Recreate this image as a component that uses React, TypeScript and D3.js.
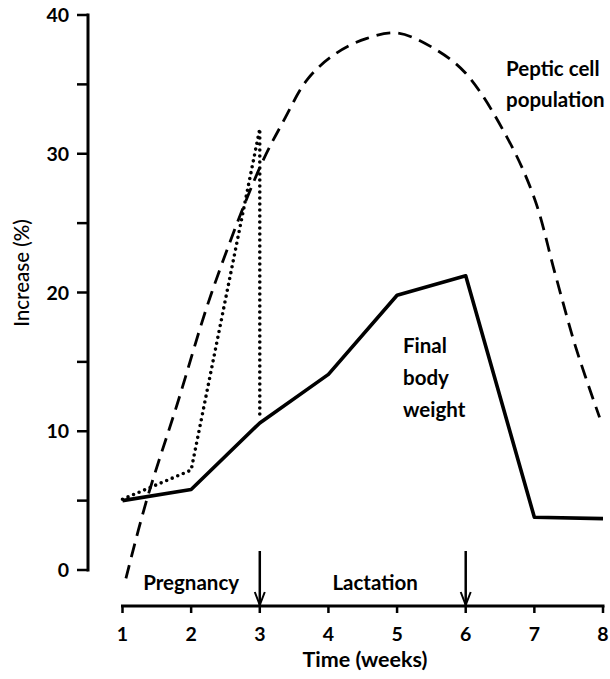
import React, { useRef, useEffect } from "react";
import * as d3 from "d3";

// weeks on the x axis
const weeks = [1, 2, 3, 4, 5, 6, 7, 8];
const yTicks = [0, 5, 10, 15, 20, 25, 30, 35, 40];
const yLabels = [0, 10, 20, 30, 40];

// final body weight (solid)
const bodyWeight = [5.0, 5.8, 10.6, 14.1, 19.8, 21.2, 3.8, 3.7];

// dotted trace
const dottedX = [1, 2, 3, 3];
const dottedY = [5.1, 7.2, 31.8, 11.1];

// peptic cell population (dashed curve)
const pepticX = [1.05, 1.35, 1.8, 2.3, 3.0, 3.35, 3.7, 4.1, 4.55, 5.0, 5.5, 6.0, 6.6, 7.0, 7.3, 7.6, 7.95];
const pepticY = [-0.6, 5.0, 12.0, 20.0, 29.0, 32.4, 35.4, 37.2, 38.3, 38.7, 37.7, 35.8, 31.2, 26.8, 21.4, 16.1, 11.0];

const arrowWeeks = [3, 6];
const phaseLabels = ["Pregnancy", "Lactation"];
const phaseCentres = [2, 4.68];

const FONT = "Lato, 'Open Sans', sans-serif";

const App = () => {
  const ref = useRef(null);

  useEffect(() => {
    const svg = d3.select(ref.current);
    svg.selectAll("*").remove();

    const x = d3.scaleLinear().domain([1, 8]).range([122.5, 603]);
    const y = d3.scaleLinear().domain([0, 40]).range([570, 15]);
    const axisY = 606;

    // y axis
    svg.append("line")
      .attr("x1", 88).attr("x2", 88)
      .attr("y1", y(40) - 1.5).attr("y2", y(0) + 1.5)
      .attr("stroke", "#000").attr("stroke-width", 3);
    svg.selectAll(".ytick").data(yTicks).enter().append("line")
      .attr("x1", 77).attr("x2", 88)
      .attr("y1", d => y(d)).attr("y2", d => y(d))
      .attr("stroke", "#000").attr("stroke-width", 2.5);
    svg.selectAll(".ylab").data(yLabels).enter().append("text")
      .attr("x", 69).attr("y", d => y(d)).attr("dy", "0.36em")
      .attr("text-anchor", "end")
      .attr("font-family", FONT).attr("font-weight", 700).attr("font-size", 19.5)
      .text(d => d);

    // x axis
    svg.append("line")
      .attr("x1", x(1) - 1.5).attr("x2", x(8) + 1.5)
      .attr("y1", axisY).attr("y2", axisY)
      .attr("stroke", "#000").attr("stroke-width", 3);
    svg.selectAll(".xtick").data(weeks).enter().append("line")
      .attr("x1", d => x(d)).attr("x2", d => x(d))
      .attr("y1", axisY).attr("y2", axisY + 7)
      .attr("stroke", "#000").attr("stroke-width", 2.5);
    svg.selectAll(".xlab").data(weeks).enter().append("text")
      .attr("x", d => x(d)).attr("y", 641)
      .attr("text-anchor", "middle")
      .attr("font-family", FONT).attr("font-weight", 700).attr("font-size", 19.5)
      .text(d => d);

    svg.append("text")
      .attr("x", 365).attr("y", 667)
      .attr("text-anchor", "middle")
      .attr("font-family", FONT).attr("font-weight", 700).attr("font-size", 21.5)
      .text("Time (weeks)");

    svg.append("text")
      .attr("transform", "translate(29, 273) rotate(-90)")
      .attr("text-anchor", "middle")
      .attr("font-family", FONT).attr("font-weight", 500).attr("font-size", 20.5)
      .text("Increase (%)");

    // arrows at birth and weaning
    arrowWeeks.forEach(w => {
      const cx = x(w);
      svg.append("line")
        .attr("x1", cx).attr("x2", cx)
        .attr("y1", 551).attr("y2", axisY)
        .attr("stroke", "#000").attr("stroke-width", 2.5);
      svg.append("path")
        .attr("d", `M${cx - 5},${axisY - 14} L${cx},${axisY - 1} L${cx + 5},${axisY - 14}`)
        .attr("fill", "none").attr("stroke", "#000").attr("stroke-width", 2);
    });

    phaseLabels.forEach((label, i) => {
      svg.append("text")
        .attr("x", x(phaseCentres[i])).attr("y", 590)
        .attr("text-anchor", "middle")
        .attr("font-family", FONT).attr("font-weight", 700).attr("font-size", 20.5)
        .text(label);
    });

    // peptic cell population
    const pepticLine = d3.line()
      .x(d => x(d[0])).y(d => y(d[1]))
      .curve(d3.curveCatmullRom.alpha(0.5));
    svg.append("path")
      .datum(pepticX.map((v, i) => [v, pepticY[i]]))
      .attr("d", pepticLine)
      .attr("fill", "none").attr("stroke", "#000")
      .attr("stroke-width", 2.8).attr("stroke-dasharray", "14,8");

    // dotted trace
    const straight = d3.line().x(d => x(d[0])).y(d => y(d[1]));
    svg.append("path")
      .datum(dottedX.map((v, i) => [v, dottedY[i]]))
      .attr("d", straight)
      .attr("fill", "none").attr("stroke", "#000")
      .attr("stroke-width", 3.6).attr("stroke-linecap", "round")
      .attr("stroke-dasharray", "0,6");

    // final body weight
    svg.append("path")
      .datum(weeks.map((w, i) => [w, bodyWeight[i]]))
      .attr("d", straight)
      .attr("fill", "none").attr("stroke", "#000")
      .attr("stroke-width", 3.6).attr("stroke-linejoin", "round");

    // annotations
    const notes = [
      { lines: ["Peptic cell", "population"], x: 506, y: 76, gap: 31 },
      { lines: ["Final", "body", "weight"], x: 403, y: 353, gap: 32 },
    ];
    notes.forEach(n => {
      const t = svg.append("text")
        .attr("font-family", FONT).attr("font-weight", 700).attr("font-size", 20.5);
      n.lines.forEach((l, i) => {
        t.append("tspan").attr("x", n.x).attr("y", n.y + i * n.gap).text(l);
      });
    });
  }, []);

  return (
    <svg
      ref={ref}
      width={610}
      height={679}
      style={{ position: "absolute", left: 0, top: 0, background: "#fff" }}
    ></svg>
  );
};

export default App;
